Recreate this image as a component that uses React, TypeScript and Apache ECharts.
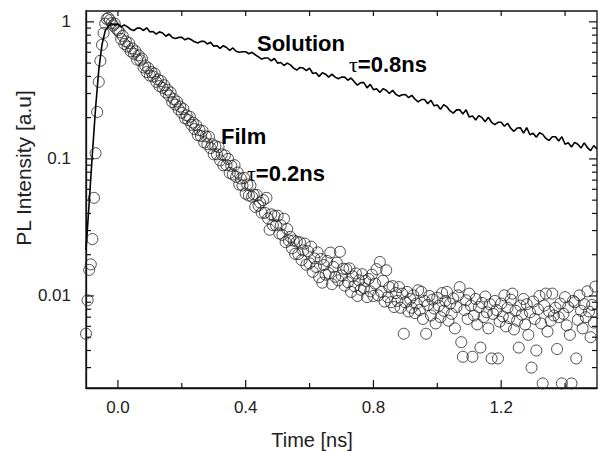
import React, { useEffect, useRef } from "react";
import * as echarts from "echarts";

const X_MIN = -0.1;
const X_MAX = 1.5;
const Y_MIN = 0.00213;
const Y_MAX = 1.2;

// Film: one point every 5 ps starting at -0.1 ns
const filmStart = -0.1;
const filmStep = 0.005;
const filmValues = [
  0.0053, 0.0093, 0.0155, 0.017, 0.026, 0.052, 0.11, 0.22, 0.365, 0.52, 0.68, 0.83, 0.97, 1.05, 1.07, 1.03, 0.98, 0.94, 0.97, 0.89, 0.87,
  0.84, 0.75, 0.79, 0.69, 0.72, 0.66, 0.70, 0.61, 0.64, 0.585, 0.61, 0.53, 0.57, 0.525, 0.54, 0.465, 0.48, 0.43, 0.46, 0.405,
  0.43, 0.40, 0.42, 0.365, 0.38, 0.34, 0.37, 0.33, 0.345, 0.305, 0.32, 0.29, 0.305, 0.26, 0.273, 0.249, 0.262, 0.23, 0.241, 0.217,
  0.231, 0.198, 0.208, 0.192, 0.203, 0.177, 0.184, 0.165, 0.176, 0.149, 0.162, 0.147, 0.16, 0.132, 0.146, 0.128, 0.145, 0.12, 0.128, 0.108,
  0.124, 0.108, 0.122, 0.0975, 0.108, 0.0898, 0.106, 0.09, 0.1, 0.079, 0.089, 0.077, 0.09, 0.074, 0.0795, 0.065, 0.072, 0.064, 0.0726, 0.0557,
  0.065, 0.054, 0.064, 0.053, 0.055, 0.0447, 0.0545, 0.0456, 0.048, 0.0405, 0.05, 0.0404, 0.052, 0.0368, 0.0304, 0.0394, 0.0329, 0.0383, 0.0328, 0.0385,
  0.0286, 0.0328, 0.0279, 0.0366, 0.0247, 0.0308, 0.0254, 0.027, 0.0223, 0.0254, 0.0203, 0.0249, 0.0202, 0.0246, 0.0183, 0.0215, 0.0241, 0.0169, 0.0212, 0.0173,
  0.0229, 0.015, 0.0188, 0.0163, 0.0208, 0.0137, 0.0186, 0.0125, 0.0168, 0.0143, 0.018, 0.0147, 0.0207, 0.0122, 0.0163, 0.0138, 0.0175, 0.013, 0.021, 0.0141,
  0.0158, 0.0119, 0.0157, 0.0126, 0.0159, 0.0107, 0.0139, 0.0118, 0.0146, 0.01, 0.013, 0.0111, 0.0144, 0.0114, 0.0129, 0.0098, 0.0133, 0.0108, 0.0143, 0.01,
  0.0123, 0.0157, 0.0101, 0.0177, 0.0107, 0.0129, 0.0091, 0.0154, 0.0098, 0.0116, 0.009, 0.0118, 0.0083, 0.0105, 0.0092, 0.0116, 0.0082, 0.0104, 0.0053, 0.009, 0.0107, 0.0077,
  0.0095, 0.0082, 0.0101, 0.0075, 0.0088, 0.011, 0.0079, 0.0107, 0.0068, 0.0092, 0.0053, 0.0086, 0.01, 0.0072, 0.0094, 0.0081, 0.0063, 0.0097, 0.0085, 0.007,
  0.0105, 0.0078, 0.0092, 0.0107, 0.0066, 0.0088, 0.0074, 0.0096, 0.0058, 0.0083, 0.0101, 0.0116, 0.0046, 0.0036, 0.0079, 0.0093, 0.0068, 0.0104, 0.0085, 0.0036,
  0.0072, 0.0095, 0.0062, 0.0083, 0.0042, 0.0089, 0.007, 0.0099, 0.0076, 0.0058, 0.0087, 0.0035, 0.0074, 0.0092, 0.0079, 0.0035, 0.0065, 0.0088, 0.0071, 0.0101,
  0.006, 0.0082, 0.0069, 0.0094, 0.0104, 0.0057, 0.0078, 0.0066, 0.0042, 0.0085, 0.0073, 0.0095, 0.0062, 0.0087, 0.0052, 0.0076, 0.003, 0.0091, 0.0068, 0.004,
  0.008, 0.01, 0.0063, 0.0023, 0.0085, 0.0104, 0.0055, 0.0077, 0.0066, 0.0104, 0.0072, 0.0082, 0.0041, 0.007, 0.0088, 0.0023, 0.0074, 0.0098, 0.0061, 0.0083,
  0.0052, 0.0023, 0.0092, 0.009, 0.0035, 0.0067, 0.0101, 0.0078, 0.0058, 0.0087, 0.007, 0.0108, 0.0077, 0.005, 0.0086, 0.0064, 0.0117,
];

// Solution: one point every 10 ps starting at -0.1 ns
const solutionStart = -0.1;
const solutionStep = 0.01;
const solutionValues = [
  0.0217, 0.048, 0.109, 0.235, 0.446, 0.68, 0.86, 0.935, 0.97, 0.95,
  0.96, 0.92, 0.95, 0.92, 0.88, 0.865, 0.9, 0.9, 0.865, 0.905,
  0.845, 0.85, 0.815, 0.845, 0.83, 0.785, 0.815, 0.77, 0.755, 0.77,
  0.77, 0.74, 0.76, 0.74, 0.715, 0.7, 0.72, 0.72, 0.69, 0.71,
  0.665, 0.67, 0.64, 0.67, 0.65, 0.62, 0.645, 0.61, 0.6, 0.605,
  0.605, 0.585, 0.6, 0.575, 0.555, 0.535, 0.545, 0.545, 0.52, 0.54,
  0.5, 0.505, 0.48, 0.5, 0.485, 0.46, 0.445, 0.465, 0.46, 0.44,
  0.46, 0.42, 0.425, 0.4, 0.425, 0.415, 0.395, 0.415, 0.395, 0.385,
  0.395, 0.395, 0.375, 0.39, 0.365, 0.345, 0.36, 0.36, 0.33, 0.35,
  0.32, 0.325, 0.305, 0.325, 0.317, 0.3, 0.317, 0.296, 0.287, 0.294,
  0.295, 0.28, 0.291, 0.273, 0.261, 0.271, 0.271, 0.253, 0.268, 0.244,
  0.247, 0.23, 0.249, 0.24, 0.224, 0.216, 0.228, 0.228, 0.213, 0.228,
  0.202, 0.206, 0.192, 0.207, 0.2, 0.187, 0.201, 0.185, 0.178, 0.185,
  0.185, 0.173, 0.182, 0.167, 0.159, 0.168, 0.169, 0.154, 0.169, 0.15,
  0.154, 0.144, 0.155, 0.151, 0.141, 0.136, 0.145, 0.145, 0.135, 0.145,
  0.128, 0.131, 0.122, 0.132, 0.128, 0.12, 0.131, 0.121, 0.115, 0.125,
  0.118,
];

const xLabelValues = [0, 0.4, 0.8, 1.2];
const xMinorTickValues = [0.2, 0.6, 1.0, 1.4];
const xTopTickValues = [0, 0.2, 0.4, 0.6, 0.8, 1.0, 1.2, 1.4];
const yMajorValues = [0.01, 0.1, 1];
const yMajorLabels = ["0.01", "0.1", "1"];
const yMinorValues = [
  0.003, 0.004, 0.005, 0.006, 0.007, 0.008, 0.009,
  0.02, 0.03, 0.04, 0.05, 0.06, 0.07, 0.08, 0.09,
  0.2, 0.3, 0.4, 0.5, 0.6, 0.7, 0.8, 0.9,
];

const xTitle = "Time [ns]";
const yTitle = "PL Intensity [a.u]";
const solutionName = "Solution";
const solutionTau = "0.8ns";
const filmName = "Film";
const filmTau = "0.2ns";

const SANS = "Liberation Sans, Arial, sans-serif";

export default function App() {
  const ref = useRef<HTMLDivElement>(null);

  useEffect(() => {
    if (!ref.current) return;
    const chart = echarts.init(ref.current, null, { renderer: "svg" });

    const filmData = filmValues.map((v, i) => [+(filmStart + i * filmStep).toFixed(4), v]);
    const solutionData = solutionValues.map((v, i) => [+(solutionStart + i * solutionStep).toFixed(4), v]);

    // tick items: [x, y, side(0 bottom,1 top,2 left,3 right), major]
    const tickItems: number[][] = [];
    xLabelValues.forEach((v) => tickItems.push([v, Y_MIN, 0, 1]));
    xMinorTickValues.forEach((v) => tickItems.push([v, Y_MIN, 0, 0]));
    xTopTickValues.forEach((v) => tickItems.push([v, Y_MAX, 1, 0]));
    yMajorValues.forEach((v) => {
      tickItems.push([X_MIN, v, 2, 1]);
      tickItems.push([X_MAX, v, 3, 1]);
    });
    yMinorValues.forEach((v) => {
      tickItems.push([X_MIN, v, 2, 0]);
      tickItems.push([X_MAX, v, 3, 0]);
    });

    const yLabelFor = (v: number) => {
      for (let k = 0; k < yMajorValues.length; k++) {
        if (Math.abs(Math.log10(v) - Math.log10(yMajorValues[k])) < 1e-4) return yMajorLabels[k];
      }
      return "";
    };

    const richTau = {
      t: { fontSize: 22, fontFamily: "Liberation Serif, serif", color: "#000" },
      b: { fontSize: 22, fontWeight: "bold", fontFamily: SANS, color: "#000" },
    };

    const option: any = {
      animation: false,
      backgroundColor: "#ffffff",
      grid: {
        left: 86,
        right: 1,
        top: 11,
        bottom: 63,
        show: true,
        borderColor: "#111",
        borderWidth: 1.3,
        backgroundColor: "transparent",
      },
      xAxis: {
        type: "value",
        min: X_MIN,
        max: X_MAX,
        axisLine: { show: true, onZero: false, lineStyle: { color: "#111", width: 1.3 } },
        axisTick: { show: false },
        splitLine: { show: false },
        axisLabel: {
          customValues: xLabelValues,
          formatter: (v: number) => v.toFixed(1),
          fontSize: 17,
          fontFamily: SANS,
          color: "#222",
          margin: 11,
        },
      },
      yAxis: {
        type: "log",
        logBase: 10,
        min: Y_MIN,
        max: Y_MAX,
        axisLine: { show: true, onZero: false, lineStyle: { color: "#111", width: 1.3 } },
        axisTick: { show: false },
        splitLine: { show: false },
        minorTick: { show: false },
        axisLabel: {
          formatter: (v: number) => yLabelFor(v),
          fontSize: 17,
          fontFamily: SANS,
          color: "#222",
          margin: 15,
        },
      },
      graphic: [
        {
          type: "text",
          x: 23,
          y: 168,
          rotation: Math.PI / 2,
          style: {
            text: yTitle,
            fontSize: 21,
            fontFamily: SANS,
            fill: "#222",
            align: "center",
            verticalAlign: "middle",
            textAlign: "center",
            textVerticalAlign: "middle",
          },
        },
        {
          type: "text",
          x: 312,
          y: 440,
          style: {
            text: xTitle,
            fontSize: 20,
            fontFamily: SANS,
            fill: "#222",
            align: "center",
            verticalAlign: "middle",
            textAlign: "center",
            textVerticalAlign: "middle",
          },
        },
        {
          type: "text",
          x: 257,
          y: 43,
          style: {
            text: solutionName,
            fontSize: 22,
            fontWeight: "bold",
            fontFamily: SANS,
            fill: "#000",
            verticalAlign: "middle",
            textVerticalAlign: "middle",
          },
        },
        {
          type: "text",
          x: 349,
          y: 64,
          style: {
            text: "{t|τ}{b|=" + solutionTau + "}",
            verticalAlign: "middle",
            textVerticalAlign: "middle",
            rich: richTau,
          },
        },
        {
          type: "text",
          x: 221,
          y: 136,
          style: {
            text: filmName,
            fontSize: 22,
            fontWeight: "bold",
            fontFamily: SANS,
            fill: "#000",
            verticalAlign: "middle",
            textVerticalAlign: "middle",
          },
        },
        {
          type: "text",
          x: 247,
          y: 173,
          style: {
            text: "{t|τ}{b|=" + filmTau + "}",
            verticalAlign: "middle",
            textVerticalAlign: "middle",
            rich: richTau,
          },
        },
      ],
      series: [
        {
          name: "Film",
          type: "scatter",
          data: filmData,
          symbol: "circle",
          symbolSize: 11,
          itemStyle: { color: "rgba(255,255,255,0)", borderColor: "#222", borderWidth: 1 },
          z: 2,
        },
        {
          name: "Solution",
          type: "line",
          data: solutionData,
          showSymbol: false,
          symbol: "none",
          lineStyle: { color: "#000", width: 1.6 },
          z: 3,
        },
        {
          name: "ticks",
          type: "custom",
          clip: false,
          data: tickItems,
          encode: { x: 0, y: 1 },
          z: 4,
          renderItem: (params: any, api: any) => {
            const side = api.value(2);
            const major = api.value(3);
            const len = major ? 8 : 5;
            let x1 = 0, y1 = 0, x2 = 0, y2 = 0;
            if (side === 0) {
              const p = api.coord([api.value(0), Y_MIN]);
              x1 = x2 = p[0]; y1 = p[1]; y2 = p[1] - len;
            } else if (side === 1) {
              const p = api.coord([api.value(0), Y_MAX]);
              x1 = x2 = p[0]; y1 = p[1]; y2 = p[1] + len;
            } else if (side === 2) {
              const p = api.coord([X_MIN, api.value(1)]);
              y1 = y2 = p[1]; x1 = p[0]; x2 = p[0] + len;
            } else {
              const p = api.coord([X_MAX, api.value(1)]);
              y1 = y2 = p[1]; x1 = p[0]; x2 = p[0] - len;
            }
            return {
              type: "line",
              shape: { x1, y1, x2, y2 },
              style: { stroke: "#111", lineWidth: 1.2 },
            };
          },
        },
      ],
    };

    chart.setOption(option);
    return () => chart.dispose();
  }, []);

  return (
    <div
      ref={ref}
      style={{ position: "fixed", left: 0, top: 0, width: 598, height: 451, background: "#fff" }}
    />
  );
}
